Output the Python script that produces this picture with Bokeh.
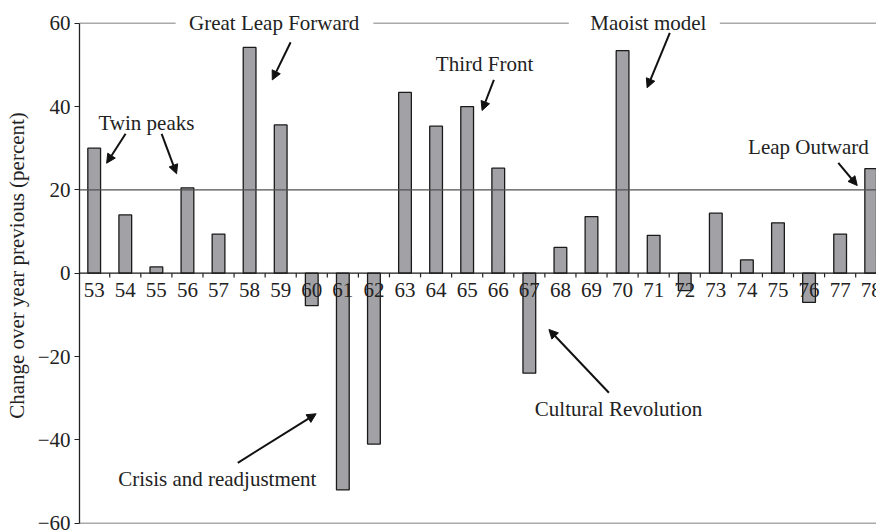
from bokeh.plotting import figure
from bokeh.models import (Range1d, Span, FixedTicker, Arrow, NormalHead,
                          ColumnDataSource)
from bokeh.core.properties import value
from bokeh.embed import file_html
from bokeh.resources import INLINE

# ---- data ----
years = [53, 54, 55, 56, 57, 58, 59, 60, 61, 62, 63, 64, 65, 66, 67, 68, 69, 70,
         71, 72, 73, 74, 75, 76, 77, 78]
growth = [30.0, 14.0, 1.5, 20.5, 9.4, 54.2, 35.6, -7.8, -52.0, -41.0, 43.4, 35.3,
          40.0, 25.2, -24.0, 6.2, 13.6, 53.4, 9.1, -4.2, 14.4, 3.2, 12.1, -7.0,
          9.4, 25.1]
year_labels = [str(y) for y in years]

y_ticks = [-60, -40, -20, 0, 20, 40, 60]
reference_level = 20
y_title = "Change over year previous (percent)"

ann_text = ["Twin peaks", "Great Leap Forward", "Third Front", "Maoist model",
            "Leap Outward", "Crisis and readjustment", "Cultural Revolution"]
ann_x = [54.68, 58.79, 65.56, 70.83, 75.98, 56.96, 69.87]
ann_y = [36.0, 60.0, 50.25, 60.0, 30.24, -49.34, -32.7]

arrow_x0 = [54.01, 55.17, 59.32, 65.86, 71.52, 76.94, 57.62, 69.56]
arrow_y0 = [33.46, 33.46, 55.44, 46.4, 57.7, 26.5, -45.5, -28.7]
arrow_x1 = [53.40, 55.65, 58.73, 65.48, 70.79, 77.55, 60.14, 67.63]
arrow_y1 = [26.4, 23.86, 46.4, 39.05, 44.5, 21.05, -33.74, -13.5]

period_x0 = [52.5, 61.98, 73.13]
period_x1 = [55.62, 68.27, 80.0]
period_y = [60, 60, 60]

FONT = "Liberation Serif"
TXT = "#222222"

p = figure(width=876, height=530, output_backend="svg", toolbar_location=None,
           x_range=Range1d(52.527, 78.17), y_range=Range1d(-61.75, 65.45),
           x_axis_location=None, min_border_left=79, min_border_right=0,
           min_border_top=0, min_border_bottom=0)
p.outline_line_color = None
p.xgrid.visible = False
p.ygrid.visible = False
p.background_fill_color = "white"
p.border_fill_color = "white"

# y axis
ya = p.yaxis[0]
ya.ticker = FixedTicker(ticks=y_ticks)
ya.bounds = (-60, 60)
ya.major_label_overrides = {t: (("\u2212" + str(-t)) if t < 0 else str(t)) for t in y_ticks}
ya.minor_tick_line_color = None
ya.major_tick_in = 0
ya.major_tick_out = 5
ya.major_tick_line_color = "#222222"
ya.major_tick_line_width = 1.2
ya.axis_line_color = "#222222"
ya.axis_line_width = 1.3
ya.major_label_text_font = FONT
ya.major_label_text_font_size = "21px"
ya.major_label_text_color = TXT
ya.major_label_standoff = 4
ya.axis_label = y_title
ya.axis_label_text_font = FONT
ya.axis_label_text_font_size = "21px"
ya.axis_label_text_font_style = "normal"
ya.axis_label_text_color = TXT
ya.axis_label_standoff = 6

# bars
src = ColumnDataSource(dict(x=years, top=growth, lab=year_labels))
p.vbar(x="x", top="top", bottom=0, width=0.41, source=src,
       fill_color="#a2a2a6", line_color="#1a1a1a", line_width=1.3)

# x "axis" at zero: tick marks at category boundaries, labels
bounds = [y + 0.5 for y in years]
p.segment(x0=bounds, x1=bounds, y0=[0] * len(bounds), y1=[-1.0] * len(bounds),
          line_color="#222222", line_width=1.2)
p.text(x="x", y=0, text="lab", source=src, y_offset=17,
       text_font=value(FONT), text_font_size="21px", text_color=TXT,
       text_align="center", text_baseline="middle")

# period lines at top and frame line at bottom
p.segment(x0=period_x0, x1=period_x1, y0=period_y, y1=period_y,
          line_color="#aaaaaa", line_width=1.6)
p.segment(x0=[52.5], x1=[80], y0=[-60], y1=[-60], line_color="#aaaaaa", line_width=1.6)

# annotation texts
asrc = ColumnDataSource(dict(x=ann_x, y=ann_y, t=ann_text))
p.text(x="x", y="y", text="t", source=asrc, text_font=value(FONT),
       text_font_size="21px", text_color=TXT, text_align="center",
       text_baseline="middle")

# reference lines
p.add_layout(Span(location=0, dimension="width", line_color="#1a1a1a", line_width=1.3))
p.add_layout(Span(location=reference_level, dimension="width", line_color="#505050",
                  line_width=1.3))

# arrows
arsrc = ColumnDataSource(dict(x0=arrow_x0, y0=arrow_y0, x1=arrow_x1, y1=arrow_y1))
p.add_layout(Arrow(x_start="x0", y_start="y0", x_end="x1", y_end="y1", source=arsrc,
                   line_color="#111111", line_width=2,
                   end=NormalHead(size=9, fill_color="#111111", line_color="#111111")))

open("out.html", "w").write(file_html(p, INLINE))
